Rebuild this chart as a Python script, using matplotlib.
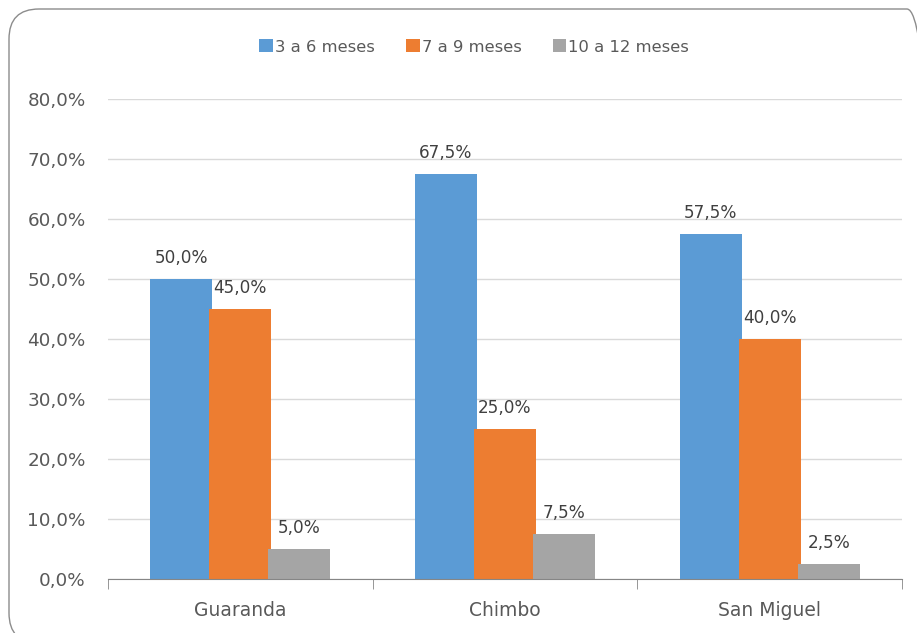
import matplotlib.pyplot as plt
import numpy as np
from matplotlib.patches import FancyBboxPatch
from matplotlib.transforms import IdentityTransform

plt.rcParams['font.family'] = ['DejaVu Sans']

lugares = ["Guaranda", "Chimbo", "San Miguel"]
series = ["3 a 6 meses", "7 a 9 meses", "10 a 12 meses"]
v_3a6 = [50.0, 67.5, 57.5]
v_7a9 = [45.0, 25.0, 40.0]
v_10a12 = [5.0, 7.5, 2.5]
colores = ["#5B9BD5", "#ED7D31", "#A5A5A5"]

txt = "#595959"
fig = plt.figure(figsize=(9.17, 6.33), dpi=100)
ax = fig.add_axes([108 / 917, 1 - 579 / 633, (902 - 108) / 917, (579 - 99) / 633])

# rounded chart border (runs off the right and bottom edges, as in the original)
borde = FancyBboxPatch((9, -10), 928, 634, boxstyle="round,pad=0,rounding_size=30",
                       transform=IdentityTransform(), fill=False,
                       edgecolor="#8C8C8C", linewidth=1.0)
fig.patches.append(borde)

x = np.arange(len(lugares))
ancho = 0.235
paso = 0.223
for k, (vals, nombre) in enumerate(zip([v_3a6, v_7a9, v_10a12], series)):
    barras = ax.bar(x + (k - 1) * paso, vals, ancho, color=colores[k], label=nombre, zorder=3 + k)
    for b, v in zip(barras, vals):
        ax.annotate(f"{v:.1f}%".replace(".", ","), (b.get_x() + b.get_width() / 2, v),
                    xytext=(0, 8.5), textcoords="offset points", ha="center", va="bottom",
                    fontsize=12.2, color="#404040", zorder=10)

ax.set_xlim(-0.5, 2.5)
ax.set_ylim(0, 80)
ax.set_yticks(np.arange(0, 81, 10))
ax.set_yticklabels([f"{t:.1f}%".replace(".", ",") for t in np.arange(0, 81, 10)])
ax.yaxis.grid(True, color="#D9D9D9", linewidth=1, zorder=0)
ax.set_axisbelow(True)

ax.set_xticks(x)
ax.set_xticklabels(lugares)
ax.set_xticks([-0.5, 0.5, 1.5, 2.5], minor=True)
ax.tick_params(axis="x", which="major", length=0, pad=16, labelsize=13.5, labelcolor=txt)
ax.tick_params(axis="x", which="minor", length=7, color="#868686", direction="out")
ax.tick_params(axis="y", length=0, pad=16, labelsize=13.2, labelcolor=txt)

for s in ["top", "right", "left"]:
    ax.spines[s].set_visible(False)
ax.spines["bottom"].set_color("#868686")
ax.spines["bottom"].set_zorder(8)

ax.legend(loc="center", bbox_to_anchor=(474 / 917, 1 - 47 / 633), bbox_transform=fig.transFigure,
          ncol=3, frameon=False, fontsize=11.8, labelcolor=txt, handlelength=0.85,
          handleheight=0.85, handletextpad=0.12, columnspacing=1.9)

fig.savefig("out.png", dpi=100)
